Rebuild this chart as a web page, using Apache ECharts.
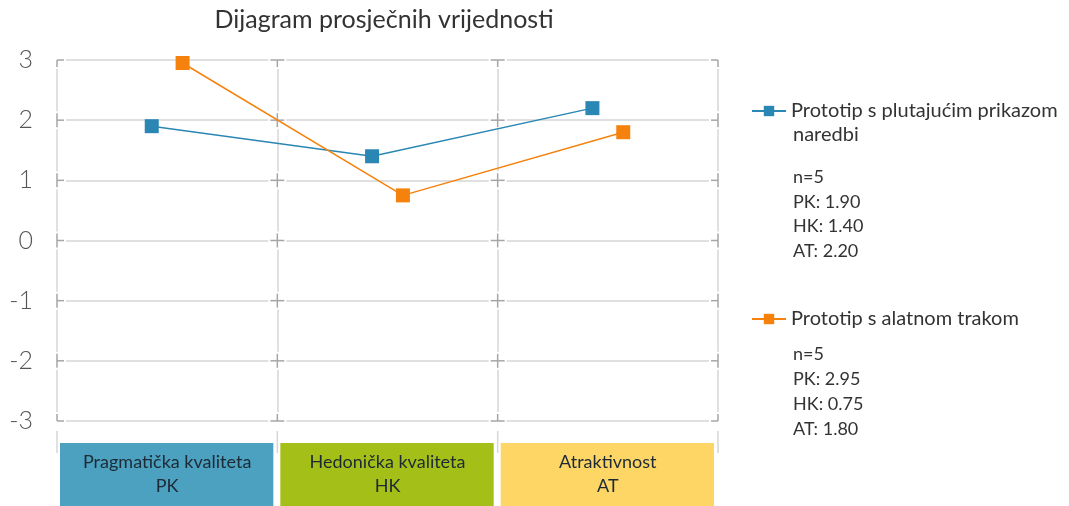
<!DOCTYPE html>
<html><head><meta charset="utf-8">
<script src="https://cdn.jsdelivr.net/npm/echarts@6/dist/echarts.min.js"></script>
<style>html,body{margin:0;padding:0;background:#fff}#c{width:1069px;height:506px}</style>
</head><body><div id="c"></div>
<script>
const title = 'Dijagram prosječnih vrijednosti';
const categories = ['Pragmatička kvaliteta\nPK', 'Hedonička kvaliteta\nHK', 'Atraktivnost\nAT'];
const catCodes = ['PK', 'HK', 'AT'];
const catColors = ['#4ba1bf', '#a4bf17', '#fdd666'];
const seriesNames = ['Prototip s plutajućim prikazom naredbi', 'Prototip s alatnom trakom'];
const seriesColors = ['#2a86b3', '#f6820e'];
const blueValues = [1.90, 1.40, 2.20];
const orangeValues = [2.95, 0.75, 1.80];
const sampleSizes = [5, 5];
const yTicks = [-3, -2, -1, 0, 1, 2, 3];
const xBounds = [0, 1, 2, 3];
const offsets = [-0.07, 0.07];

const FONT = 'Lato';
const allValues = [blueValues, orangeValues];
const lineData = allValues.map((vals, s) => vals.map((v, i) => [i + 0.5 + offsets[s], v]));

const gridMarks = [];
xBounds.forEach(x => yTicks.forEach(y => gridMarks.push([x, y])));
const xMin = xBounds[0], xMax = xBounds[xBounds.length - 1];
const yMin = yTicks[0], yMax = yTicks[yTicks.length - 1];

const chart = echarts.init(document.getElementById('c'), null, {renderer: 'canvas'});

function statsText(s) {
  return ['n=' + sampleSizes[s]].concat(catCodes.map((c, i) => c + ': ' + allValues[s][i].toFixed(2))).join('\n');
}

const LIGHT = '#d6d6d6';
const DARK = '#a6a6a6';

const option = {
  backgroundColor: '#fff',
  animation: false,
  title: {
    text: title, left: 379, top: 2, textAlign: 'center',
    textStyle: {fontFamily: FONT, fontSize: 25, fontWeight: 'normal', color: '#333'}
  },
  grid: {left: 57, right: 351, top: 60, bottom: 85},
  xAxis: {
    type: 'value', min: 0, max: 3, interval: 1,
    axisLabel: {show: false}, axisTick: {show: false}, axisLine: {show: false},
    splitLine: {show: true, lineStyle: {color: LIGHT, width: 1.5}}
  },
  yAxis: {
    type: 'value', min: -3, max: 3, interval: 1,
    axisLine: {show: false}, axisTick: {show: false},
    axisLabel: {margin: 24, fontFamily: FONT, fontSize: 25, color: '#555', fontWeight: 300},
    splitLine: {show: true, lineStyle: {color: LIGHT, width: 1.5}}
  },
  legend: [
    {
      data: [seriesNames[0]], left: 746, top: 96, itemWidth: 34, itemHeight: 13, itemGap: 6,
      formatter: () => 'Prototip s plutajućim prikazom',
      textStyle: {fontFamily: FONT, fontSize: 20, color: '#333'}
    },
    {
      data: [seriesNames[1]], left: 746, top: 304, itemWidth: 34, itemHeight: 13,
      textStyle: {fontFamily: FONT, fontSize: 20, color: '#333'}
    }
  ],
  graphic: [
    {type: 'text', x: 793, y: 135, style: {text: 'naredbi', font: '20px ' + FONT, fill: '#333', verticalAlign: 'middle'}},
    {type: 'text', x: 793, y: 165, style: {text: statsText(0), font: '18px ' + FONT, fill: '#333', lineHeight: 24.5, verticalAlign: 'top'}},
    {type: 'text', x: 793, y: 342, style: {text: statsText(1), font: '18px ' + FONT, fill: '#333', lineHeight: 25, verticalAlign: 'top'}}
  ],
  series: [
    {
      type: 'custom', name: 'marks', silent: true, clip: false, z: 1,
      data: gridMarks,
      renderItem: (params, api) => {
        const xv = api.value(0), yv = api.value(1);
        const p = api.coord([xv, yv]);
        const ch = [{type: 'rect', shape: {x: p[0] - 9, y: p[1] - 9, width: 18, height: 18}, style: {fill: '#fff'}}];
        const arm = 7;
        const ls = {stroke: DARK, lineWidth: 1.5};
        ch.push({type: 'line', shape: {x1: p[0], y1: p[1] - (yv < yMax ? arm : 0), x2: p[0], y2: p[1] + (yv > yMin ? arm : 0)}, style: ls});
        ch.push({type: 'line', shape: {x1: p[0] - (xv > xMin ? arm : 0), y1: p[1], x2: p[0] + (xv < xMax ? arm : 0), y2: p[1]}, style: ls});
        if (yv === yMin) {
          ch.push({type: 'line', shape: {x1: p[0], y1: p[1] + 10, x2: p[0], y2: p[1] + 32}, style: {stroke: LIGHT, lineWidth: 1.5}});
        }
        return {type: 'group', children: ch};
      }
    },
    {
      type: 'custom', name: 'categories', silent: true, clip: false, z: 2,
      data: categories.map((c, i) => [i, i + 1]),
      renderItem: (params, api) => {
        const i = params.dataIndex;
        const a = api.coord([api.value(0), -3]);
        const b = api.coord([api.value(1), -3]);
        const top = a[1] + 22;
        return {
          type: 'group',
          children: [
            {type: 'rect', shape: {x: a[0] + 3, y: top, width: b[0] - a[0] - 7, height: 63}, style: {fill: catColors[i]}},
            {type: 'text', style: {x: (a[0] + b[0]) / 2, y: top + 31, text: categories[i], align: 'center', verticalAlign: 'middle',
              font: '18px ' + FONT, fill: '#1d2a35', lineHeight: 24}}
          ]
        };
      }
    },
    {
      type: 'line', name: seriesNames[0], data: lineData[0], z: 3,
      symbol: 'rect', symbolSize: 14, color: seriesColors[0],
      lineStyle: {width: 1.5, color: seriesColors[0]}, itemStyle: {color: seriesColors[0]}
    },
    {
      type: 'line', name: seriesNames[1], data: lineData[1], z: 3,
      symbol: 'rect', symbolSize: 14, color: seriesColors[1],
      lineStyle: {width: 1.5, color: seriesColors[1]}, itemStyle: {color: seriesColors[1]}
    }
  ]
};
chart.setOption(option);
</script></body></html>
